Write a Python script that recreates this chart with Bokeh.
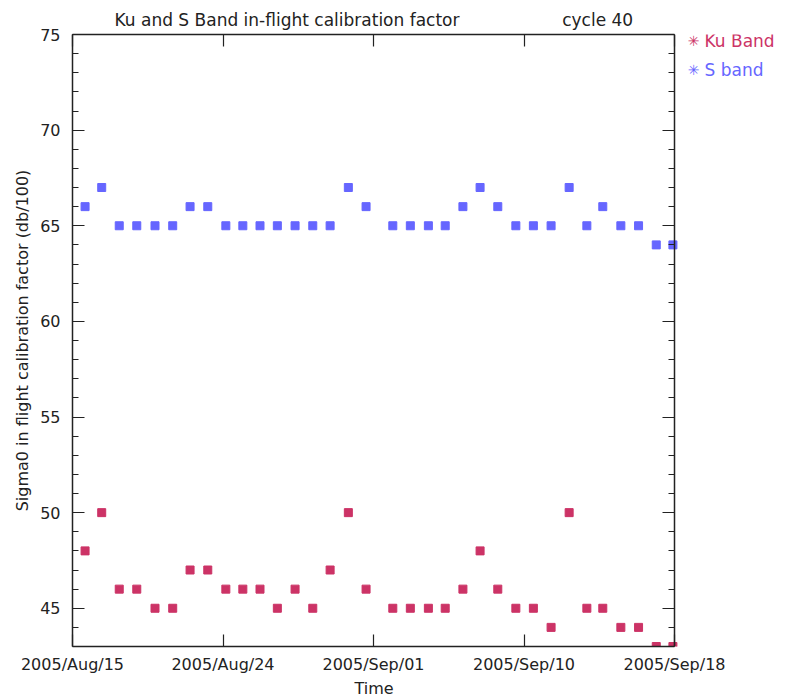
from bokeh.plotting import figure
from bokeh.models import Range1d, LinearAxis, FixedTicker, SingleIntervalTicker, Label, Title
from bokeh.embed import file_html
from bokeh.resources import INLINE

# Time in days since 2005/Aug/15 00:00
time_days = [0.71, 1.65, 2.64, 3.63, 4.66, 5.66, 6.64, 7.64, 8.66, 9.62,
             10.59, 11.57, 12.57, 13.57, 14.55, 15.58, 16.58, 18.09, 19.08, 20.10,
             21.05, 22.05, 23.02, 24.02, 25.04, 26.03, 27.03, 28.05, 29.05, 29.95,
             30.97, 31.97, 32.97, 33.91]
ku_band = [48, 50, 46, 46, 45, 45, 47, 47, 46, 46,
           46, 45, 46, 45, 47, 50, 46, 45, 45, 45,
           45, 46, 48, 46, 45, 45, 44, 50, 45, 45,
           44, 44, 43, 43]
s_band = [66, 67, 65, 65, 65, 65, 66, 66, 65, 65,
          65, 65, 65, 65, 65, 67, 66, 65, 65, 65,
          65, 66, 67, 66, 65, 65, 65, 67, 65, 66,
          65, 65, 64, 64]
x_tick_days = [0, 8.5, 17, 25.5, 34]
x_tick_labels = ["2005/Aug/15", "2005/Aug/24", "2005/Sep/01", "2005/Sep/10", "2005/Sep/18"]
series_names = ["Ku Band", "S band"]

X_START, X_END = 0, 34
Y_START, Y_END = 43, 75

KU_COLOR = "#CC3366"
S_COLOR = "#6666FF"
FONT = "DejaVu Sans"
FS = "16px"

# The frame is widened to the right so that the legend can live inside it;
# the plotted box itself is delimited by axes bounded to X_START..X_END.
BOX_W = 602
FRAME_W = 705
x_view_end = X_START + (X_END - X_START) * FRAME_W / BOX_W

p = figure(frame_width=FRAME_W, frame_height=612,
           x_range=Range1d(X_START, x_view_end), y_range=Range1d(Y_START, Y_END),
           output_backend="svg", toolbar_location=None,
           x_axis_type=None, y_axis_type=None,
           min_border_left=72, min_border_right=0, min_border_top=34, min_border_bottom=54)
p.outline_line_color = None
p.background_fill_color = "white"
p.border_fill_color = "white"

p.title.text = "Ku and S Band in-flight calibration factor" + "\u00a0" * 19 + "cycle 40"
p.title.align = "left"
p.title.offset = 42
p.title.standoff = 9
p.title.text_font = FONT
p.title.text_font_size = "17px"
p.title.text_font_style = "normal"
p.title.text_color = "#222222"


def style_axis(ax, show_labels):
    ax.axis_line_color = "#222222"
    ax.axis_line_width = 1.5
    ax.major_tick_line_color = "#222222"
    ax.minor_tick_line_color = "#222222"
    ax.major_tick_line_width = 1.2
    ax.minor_tick_line_width = 1.2
    ax.major_tick_in = 12
    ax.major_tick_out = 0
    ax.minor_tick_in = 6
    ax.minor_tick_out = 0
    ax.major_label_text_font = FONT
    ax.major_label_text_font_size = FS if show_labels else "0px"
    ax.major_label_text_color = "#222222"
    ax.axis_label_text_font = FONT
    ax.axis_label_text_font_size = FS
    ax.axis_label_text_font_style = "normal"
    ax.axis_label_text_color = "#222222"


x_override = {t: l for t, l in zip(x_tick_days, x_tick_labels)}

xb = LinearAxis(ticker=FixedTicker(ticks=x_tick_days, minor_ticks=[]),
                major_label_overrides=x_override, bounds=(X_START, X_END))
style_axis(xb, True)
xb.major_label_standoff = 8
p.add_layout(xb, "below")

# x-axis title, centred under the bounded box (not the widened frame)
p.add_layout(Title(text="Time", align="left", offset=282, standoff=0,
                   text_font=FONT, text_font_size=FS, text_font_style="normal",
                   text_color="#222222"), "below")

xt = LinearAxis(ticker=FixedTicker(ticks=x_tick_days, minor_ticks=[]),
                major_label_overrides={t: "" for t in x_tick_days},
                bounds=(X_START, X_END))
style_axis(xt, False)
xt.major_label_standoff = 0
p.add_layout(xt, "above")

yl = LinearAxis(ticker=SingleIntervalTicker(interval=5, num_minor_ticks=5),
                axis_label="Sigma0 in flight calibration factor (db/100)")
style_axis(yl, True)
yl.major_label_standoff = 12
yl.axis_label_standoff = 5
p.add_layout(yl, "left")

yr = LinearAxis(ticker=SingleIntervalTicker(interval=5, num_minor_ticks=5),
                major_label_overrides={v: "" for v in range(45, 80, 5)},
                fixed_location=X_END)
style_axis(yr, False)
yr.major_label_standoff = 0
p.add_layout(yr, "right")

p.scatter(time_days, s_band, marker="square", size=8, line_width=1,
          line_color=S_COLOR, fill_color=S_COLOR)
p.scatter(time_days, ku_band, marker="square", size=8, line_width=1,
          line_color=KU_COLOR, fill_color=KU_COLOR)

# legend (inside the widened frame, to the right of the box)
for name, col, yy in [(series_names[0], KU_COLOR, 606), (series_names[1], S_COLOR, 577)]:
    p.add_layout(Label(x=621, y=yy, x_units="screen", y_units="screen", text="✳",
                       text_font=FONT, text_font_size="14px", text_color=col,
                       text_align="center", text_baseline="middle"))
    p.add_layout(Label(x=632, y=yy, x_units="screen", y_units="screen", text=name,
                       text_font=FONT, text_font_size="17px", text_color=col,
                       text_align="left", text_baseline="middle"))

open("out.html", "w").write(file_html(p, INLINE))
